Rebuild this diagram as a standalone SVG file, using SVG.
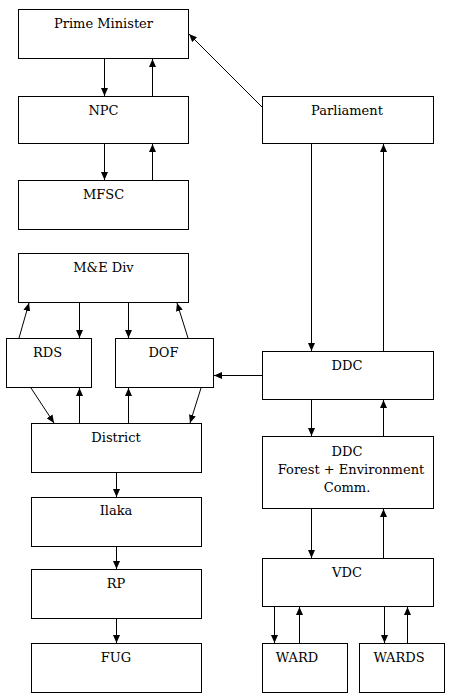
<svg xmlns="http://www.w3.org/2000/svg" width="450" height="697" viewBox="0 0 450 697">
<style>
.box{fill:#fff;stroke:#000;stroke-width:1}
text{font-family:'DejaVu Serif',serif;font-size:13px;fill:#000;text-anchor:middle}
.c{stroke:#000;stroke-width:1;fill:none;marker-end:url(#ah)}
</style>
<defs>
<marker id="ah" markerUnits="userSpaceOnUse" markerWidth="8" markerHeight="7" refX="8" refY="3.5" orient="auto">
<path d="M0,0 L8,3.5 L0,7 z" fill="#000"/>
</marker>
</defs>
<rect width="450" height="697" fill="#fff"/>
<g id="pm"><rect class="box" x="18.5" y="9.5" width="170" height="49"/><text x="103.5" y="28">Prime Minister</text></g>
<g id="npc"><rect class="box" x="18.5" y="96.5" width="170" height="47"/><text x="103.5" y="115">NPC</text></g>
<g id="mfsc"><rect class="box" x="18.5" y="180.5" width="170" height="49"/><text x="103.5" y="199">MFSC</text></g>
<g id="parliament"><rect class="box" x="262.5" y="96.5" width="171" height="47"/><text x="347" y="115">Parliament</text></g>
<g id="me"><rect class="box" x="18.5" y="253.5" width="170" height="49"/><text x="103.5" y="272">M&amp;E Div</text></g>
<g id="rds"><rect class="box" x="6.5" y="338.5" width="85" height="49"/><text x="47.5" y="357">RDS</text></g>
<g id="dof"><rect class="box" x="115.5" y="338.5" width="98" height="49"/><text x="163.5" y="357">DOF</text></g>
<g id="ddc"><rect class="box" x="262.5" y="351.5" width="171" height="48"/><text x="347" y="370">DDC</text></g>
<g id="district"><rect class="box" x="31.5" y="423.5" width="170" height="49"/><text x="116" y="442">District</text></g>
<g id="ddcf"><rect class="box" x="262.5" y="436.5" width="171" height="72"/><text x="347" y="456">DDC</text><text x="351" y="474">Forest + Environment</text><text x="347" y="492">Comm.</text></g>
<g id="ilaka"><rect class="box" x="31.5" y="497.5" width="170" height="49"/><text x="116" y="515">Ilaka</text></g>
<g id="rp"><rect class="box" x="31.5" y="569.5" width="170" height="49"/><text x="116" y="588">RP</text></g>
<g id="fug"><rect class="box" x="31.5" y="643.5" width="170" height="49"/><text x="116" y="662">FUG</text></g>
<g id="vdc"><rect class="box" x="262.5" y="558.5" width="171" height="48"/><text x="347" y="577">VDC</text></g>
<g id="ward"><rect class="box" x="262.5" y="643.5" width="85" height="49"/><text x="297" y="662">WARD</text></g>
<g id="wards"><rect class="box" x="359.5" y="643.5" width="85" height="49"/><text x="399" y="662">WARDS</text></g>
<g id="connectors">
<line class="c" x1="104.5" y1="59" x2="104.5" y2="96"/>
<line class="c" x1="152.5" y1="96" x2="152.5" y2="59"/>
<line class="c" x1="104.5" y1="144" x2="104.5" y2="180"/>
<line class="c" x1="152.5" y1="180" x2="152.5" y2="144"/>
<line class="c" x1="262" y1="107" x2="189" y2="34"/>
<line class="c" x1="311.5" y1="144" x2="311.5" y2="351"/>
<line class="c" x1="383.5" y1="351" x2="383.5" y2="144"/>
<line class="c" x1="79.5" y1="303" x2="79.5" y2="338"/>
<line class="c" x1="128.5" y1="303" x2="128.5" y2="338"/>
<line class="c" x1="19" y1="338" x2="29" y2="303"/>
<line class="c" x1="188" y1="338" x2="177" y2="303"/>
<line class="c" x1="31" y1="388" x2="54" y2="423"/>
<line class="c" x1="79.5" y1="423" x2="79.5" y2="388"/>
<line class="c" x1="128.5" y1="423" x2="128.5" y2="388"/>
<line class="c" x1="201" y1="388" x2="190" y2="423"/>
<line class="c" x1="262" y1="375.5" x2="214" y2="375.5"/>
<line class="c" x1="311.5" y1="400" x2="311.5" y2="436"/>
<line class="c" x1="383.5" y1="436" x2="383.5" y2="400"/>
<line class="c" x1="116.5" y1="473" x2="116.5" y2="497"/>
<line class="c" x1="116.5" y1="547" x2="116.5" y2="569"/>
<line class="c" x1="116.5" y1="619" x2="116.5" y2="643"/>
<line class="c" x1="311.5" y1="509" x2="311.5" y2="558"/>
<line class="c" x1="383.5" y1="558" x2="383.5" y2="509"/>
<line class="c" x1="274.5" y1="607" x2="274.5" y2="643"/>
<line class="c" x1="299.5" y1="643" x2="299.5" y2="607"/>
<line class="c" x1="384.5" y1="607" x2="384.5" y2="643"/>
<line class="c" x1="407.5" y1="643" x2="407.5" y2="607"/>
</g>
</svg>
